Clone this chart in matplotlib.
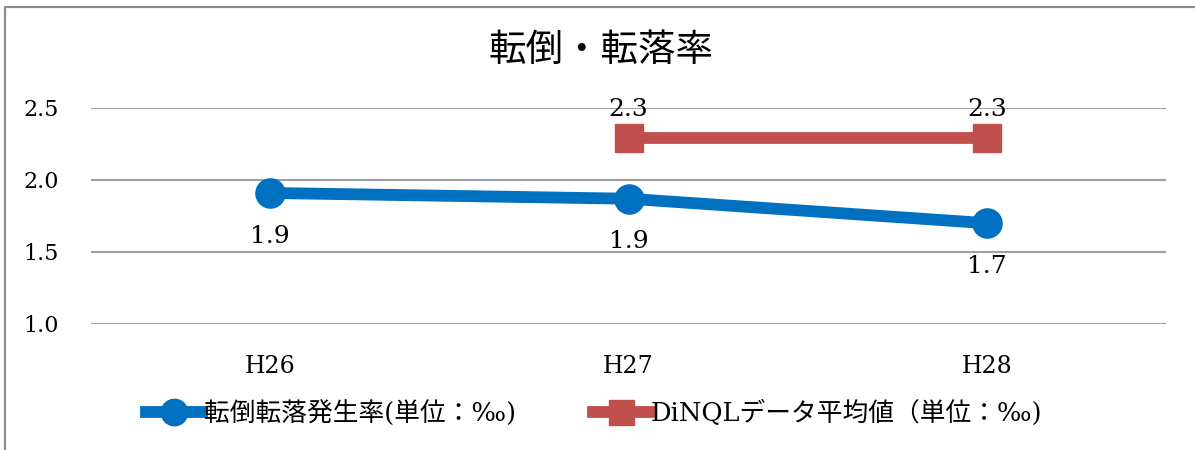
""" Fall rate line chart: own rate vs DiNQL average. """

import matplotlib
matplotlib.use("Agg")
import matplotlib.pyplot as plt
from matplotlib.lines import Line2D

# Data
years = ["H26", "H27", "H28"]
fall_rate = [1.91, 1.87, 1.70]
dinql_x = ["H27", "H28"]
dinql_avg = [2.29, 2.29]
y_ticks = [1.0, 1.5, 2.0, 2.5]

title = "転倒・転落率"
label_rate = "転倒転落発生率(単位：‰)"
label_dinql = "DiNQLデータ平均値（単位：‰)"

BLUE = "#0070C0"
RED = "#C0504D"
SERIF = ["DejaVu Serif", "Noto Sans CJK JP"]

fig = plt.figure(figsize=(11.95, 4.5), dpi=100)
ax = fig.add_axes([91 / 1195, 1 - 324 / 450, (1166 - 91) / 1195, (324 - 108) / 450])

xs = list(range(len(years)))
dx = [years.index(y) for y in dinql_x]

# Lines
ax.plot(xs, fall_rate, color=BLUE, lw=8.5, marker="o", ms=21,
        solid_capstyle="butt", zorder=3)
ax.plot(dx, dinql_avg, color=RED, lw=8.5, marker="s", ms=20,
        solid_capstyle="butt", zorder=3)

# Data labels
for x, v in zip(xs, fall_rate):
    ax.annotate(f"{v:.1f}", (x, v), xytext=(0, -31), textcoords="offset points",
                ha="center", va="center", fontsize=18, family=SERIF)
for x, v in zip(dx, dinql_avg):
    ax.annotate(f"{v:.1f}", (x, v), xytext=(0, 21), textcoords="offset points",
                ha="center", va="center", fontsize=18, family=SERIF)

# Axes formatting
ax.set_xlim(-0.5, len(years) - 0.5)
ax.set_ylim(1.0, 2.5)
ax.set_yticks(y_ticks)
ax.set_yticklabels([f"{t:.1f}" for t in y_ticks], family=SERIF, fontsize=16)
ax.set_xticks(xs)
ax.set_xticklabels(years, family=SERIF, fontsize=17)
ax.tick_params(length=0)
ax.tick_params(axis="y", pad=23)
ax.tick_params(axis="x", pad=22)
for s in ax.spines.values():
    s.set_visible(False)
ax.yaxis.grid(True, color="#a0a0a0", lw=1.5)
ax.set_axisbelow(True)

# Title
fig.text(0.503, 1 - 50 / 450, title, ha="center", va="center", fontsize=27,
         family=["Noto Sans CJK JP"])

# Legend
handles = [
    Line2D([], [], color=BLUE, lw=8.5, marker="o", ms=19),
    Line2D([], [], color=RED, lw=8.5, marker="s", ms=18),
]
leg = fig.legend(handles, [label_rate, label_dinql], loc="center",
                 bbox_to_anchor=(0.497, 1 - 413 / 450), ncol=2, frameon=False,
                 handlelength=2.2, handletextpad=0.05, columnspacing=3.0,
                 prop={"family": SERIF, "size": 18.5})

# Outer frame (cut off on right and bottom)
fx = 5 / 1195
fy = 1 - 7 / 450
fig.add_artist(Line2D([fx, fx, 1], [0, fy, fy], color="#8c8c8c", lw=1.6,
                      transform=fig.transFigure))

fig.savefig("out.png", dpi=100, facecolor="white")
